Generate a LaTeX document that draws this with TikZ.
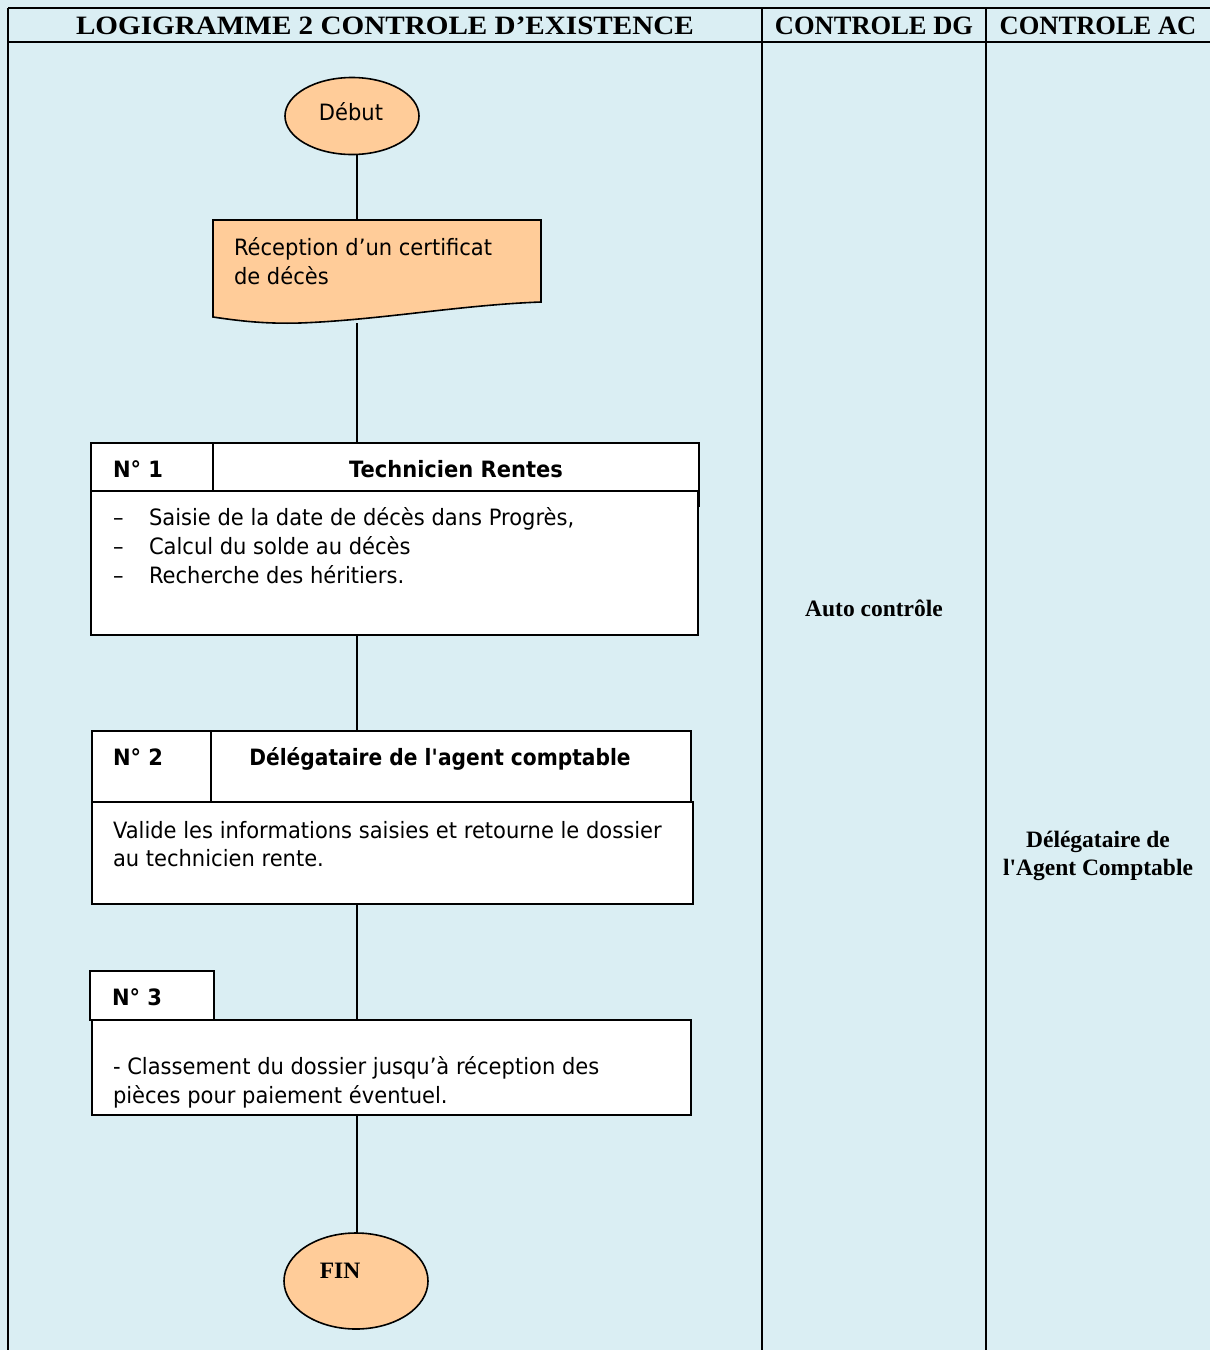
\documentclass[tikz,border=0pt]{standalone}
\usepackage{graphicx}
\usepackage{fontspec}
\setmainfont{DejaVu Sans}[FakeStretch=0.935]
\newfontfamily\tnr{Liberation Serif}
\usetikzlibrary{shapes.geometric}
\definecolor{lblue}{RGB}{218,238,243}
\definecolor{peach}{RGB}{255,204,153}
\pgfdeclarelayer{bg}
\pgfdeclarelayer{wires}
\pgfsetlayers{bg,wires,main}
\begin{document}
\begin{tikzpicture}[x=1pt,y=-1pt,
  every node/.style={inner sep=0pt, outer sep=0pt},
  body/.style={font=\fontsize{22.5}{29}\selectfont},
  bodyb/.style={font=\fontsize{22.5}{29}\selectfont\bfseries},
  serifb/.style={font=\fontsize{23.5}{28}\selectfont\tnr\bfseries},
  headf/.style={font=\fontsize{26.5}{30}\selectfont\tnr\bfseries},
  boxr/.style={rectangle, draw, fill=white, line width=1.6pt, anchor=north west},
  term/.style={ellipse, draw, fill=peach, line width=1.6pt},
  gridline/.style={line width=2pt},
  wire/.style={line width=1.6pt}]
\begin{pgfonlayer}{bg}
\fill[lblue] (0,0) rectangle (1210,1350);
\end{pgfonlayer}
\useasboundingbox (0,0) rectangle (1210,1350);
% table
\draw[gridline] (8,8) -- (1210,8);
\draw[gridline] (8,42) -- (1210,42);
\draw[gridline] (8,8) -- (8,1350);
\draw[gridline] (762,8) -- (762,1350);
\draw[gridline] (986,8) -- (986,1350);
\node[headf, anchor=base] (t1) at (385,34) {\scalebox{1.1}[1]{LOGIGRAMME 2 CONTROLE D’EXISTENCE}};
\node[headf, anchor=base] (t2) at (874,34) {CONTROLE DG};
\node[headf, anchor=base] (t3) at (1098,34) {CONTROLE AC};
% start
\node[term, minimum width=134pt, minimum height=77pt] (debut) at (352,116) {};
\node[body, anchor=base] (debutt) at (351,120) {Début};
% document
\node[minimum width=328pt, minimum height=103pt, anchor=north west] (doc) at (213,220) {};
\draw[wire, fill=peach] (213,220) -- (541,220) -- (541,302)
  .. controls (460,305) and (380,320) .. (300,323)
  .. controls (265,324) and (240,321) .. (213,317) -- cycle;
\node[body, anchor=base west] (d1) at (234,255) {Réception d’un certificat};
\node[body, anchor=base west] (d2) at (234,284) {de décès};
% box 1
\node[boxr, minimum width=122pt, minimum height=48pt] (n1) at (91,443) {};
\node[boxr, minimum width=486pt, minimum height=48pt] (r1) at (213,443) {};
\node[boxr, minimum width=607pt, minimum height=144pt] (b1) at (91,491) {};
\draw[wire] (r1.south east) -- ++(0,16);
\node[bodyb, anchor=base west] (n1t) at (113,477) {N° 1};
\node[bodyb, anchor=base] (r1t) at (456,477) {Technicien Rentes};
\node[body, anchor=base west] (u1) at (113,525) {–};
\node[body, anchor=base west] (l1) at (149,525) {Saisie de la date de décès dans Progrès,};
\node[body, anchor=base west] (u2) at (113,554) {–};
\node[body, anchor=base west] (l2) at (149,554) {Calcul du solde au décès};
\node[body, anchor=base west] (u3) at (113,583) {–};
\node[body, anchor=base west] (l3) at (149,583) {Recherche des héritiers.};
% box 2
\node[boxr, minimum width=119pt, minimum height=71pt] (n2) at (92,731) {};
\node[boxr, minimum width=480pt, minimum height=71pt] (r2) at (211,731) {};
\node[boxr, minimum width=601pt, minimum height=102pt] (b2) at (92,802) {};
\node[bodyb, anchor=base west] (n2t) at (113,765) {N° 2};
\node[bodyb, anchor=base] (r2t) at (440,765) {\scalebox{0.96}[1]{Délégataire de l\textquotesingle agent comptable}};
\node[body, anchor=base west] (v1) at (113,838) {Valide les informations saisies et retourne le dossier};
\node[body, anchor=base west] (v2) at (113,866) {au technicien rente.};
% box 3
\node[boxr, minimum width=124pt, minimum height=49pt] (n3) at (90,971) {};
\node[boxr, minimum width=599pt, minimum height=95pt] (b3) at (92,1020) {};
\draw[wire] (n3.south west) -- ++(0,-25);
\node[bodyb, anchor=base west] (n3t) at (112,1005) {N° 3};
\node[body, anchor=base west] (c1) at (113,1074) {- Classement du dossier jusqu’à réception des};
\node[body, anchor=base west] (c2) at (113,1103) {pièces pour paiement éventuel.};
% end
\node[term, minimum width=144pt, minimum height=96pt] (fin) at (356,1281) {};
\node[serifb, anchor=base] (fint) at (340,1278) {FIN};
% right columns
\node[serifb, anchor=base] (ac) at (874,616) {Auto contrôle};
\node[serifb, anchor=base] (da1) at (1098,847) {Délégataire de};
\node[serifb, anchor=base] (da2) at (1098,875) {l\textquotesingle Agent Comptable};
% connectors
\coordinate (sp) at (357,0);
\begin{pgfonlayer}{wires}
\draw[wire] (debut.south -| sp) -- (doc.north -| sp);
\draw[wire] (doc.south -| sp) -- (r1.north -| sp);
\draw[wire] (b1.south -| sp) -- (r2.north -| sp);
\draw[wire] (b2.south -| sp) -- (b3.north -| sp);
\draw[wire] (b3.south -| sp) -- (fin.north -| sp);
\end{pgfonlayer}
\end{tikzpicture}
\end{document}
